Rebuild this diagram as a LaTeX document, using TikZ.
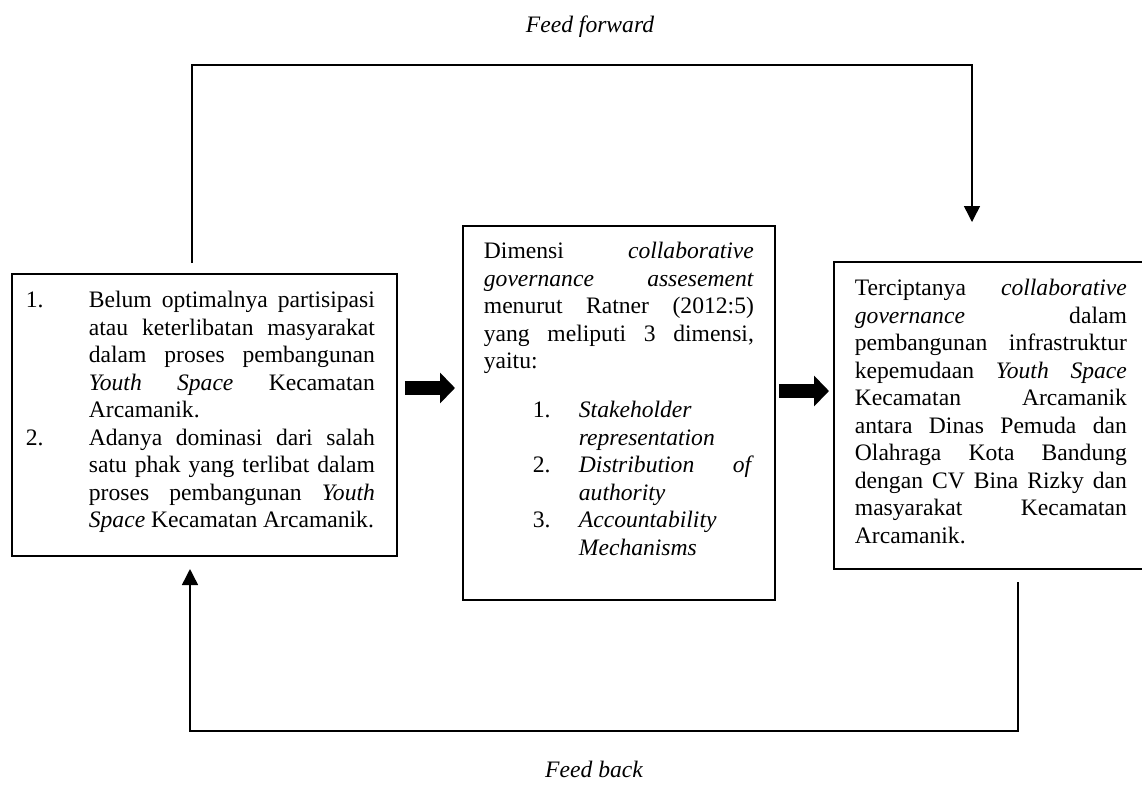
\documentclass[tikz,border=0pt]{standalone}
\usepackage{fontspec}
\setmainfont{Liberation Serif}
\usetikzlibrary{arrows.meta,calc}
\begin{document}
\begin{tikzpicture}[x=0.5pt,y=-0.5pt,
  box/.style={draw,line width=0.9pt,inner sep=0pt,anchor=north west,
    font=\fontsize{11.8pt}{13.75pt}\selectfont},
  conn/.style={line width=0.75pt,-{Triangle[length=8pt,width=8pt]}},
  blk/.style={line width=7pt,-{Triangle[length=7.5pt,width=15pt]}},
  lbl/.style={font=\fontsize{11.8pt}{13.75pt}\selectfont\itshape,inner sep=0pt}]
\useasboundingbox (0,0) rectangle (1142,784);

% left box
\node[box] (a) at (11,273) {\parbox[c][141pt][t]{192.5pt}{\hyphenpenalty=10000 \tolerance=10000
\vspace*{7.8pt}%
\leftskip=7pt \rightskip=11pt \hangindent=31.5pt \hangafter=1
\makebox[31.5pt][l]{\rule{0pt}{9pt}1.}Belum optimalnya partisipasi\linebreak atau keterlibatan masyarakat\linebreak dalam proses pembangunan\linebreak \textit{Youth Space} Kecamatan\linebreak Arcamanik.\par
\hangindent=31.5pt \hangafter=1
\makebox[31.5pt][l]{2.}Adanya dominasi dari salah\linebreak satu phak yang terlibat dalam\linebreak proses pembangunan \textit{Youth}\linebreak \textit{Space} Kecamatan Arcamanik.\par}};

% middle box
\node[box] (b) at (462,225) {\parbox[c][187pt][t]{156pt}{\hyphenpenalty=10000 \tolerance=10000
\vspace*{7.3pt}%
\leftskip=10.5pt \rightskip=10.5pt
\rule{0pt}{9pt}Dimensi \textit{collaborative}\linebreak \textit{governance assesement}\linebreak menurut Ratner (2012:5)\linebreak yang meliputi 3 dimensi,\linebreak yaitu:\par
\vspace{10.8pt}%
\leftskip=35pt
\hangindent=23pt \hangafter=1
\makebox[23pt][l]{1.}\textit{Stakeholder}\\\textit{representation}\par
\hangindent=23pt \hangafter=1
\makebox[23pt][l]{2.}\textit{Distribution of}\linebreak \textit{authority}\par
\hangindent=23pt \hangafter=1
\makebox[23pt][l]{3.}\textit{Accountability}\\\textit{Mechanisms}\par}};

% right box (its right side runs off the page)
\node[box] (c) at (833,261) {\parbox[c][153.5pt][t]{170pt}{\hyphenpenalty=10000 \tolerance=10000
\vspace*{7.8pt}%
\leftskip=10.5pt \rightskip=23.5pt
\rule{0pt}{9pt}Terciptanya \textit{collaborative}\linebreak \textit{governance} dalam\linebreak pembangunan infrastruktur\linebreak kepemudaan \textit{Youth Space}\linebreak Kecamatan Arcamanik\linebreak antara Dinas Pemuda dan\linebreak Olahraga Kota Bandung\linebreak dengan CV Bina Rizky dan\linebreak masyarakat Kecamatan\linebreak Arcamanik.\par}};

% labels
\node[lbl] (ff) at (590,27) {Feed forward};
\node[lbl] (fb) at (594,769) {Feed back};

% feed forward connector
\coordinate (ffs) at (192,263);
\coordinate (fftop) at (590,65);
\coordinate (ffe) at (972,222);
\draw[conn] (ffs) |- (fftop) -| (ffe);

% feed back connector
\coordinate (fbs) at (1018,582);
\coordinate (fbbot) at (600,731);
\coordinate (fbe) at (190,569);
\draw[conn] (fbs) |- (fbbot) -| (fbe);

% block arrows
\coordinate (ly1) at (0,388);
\coordinate (ly2) at (0,391);
\draw[blk] ($(a.east|-ly1)+(7,0)$) -- ($(b.west|-ly1)+(-7,0)$);
\draw[blk] ($(b.east|-ly2)+(3,0)$) -- ($(c.west|-ly2)+(-4,0)$);
\end{tikzpicture}
\end{document}
